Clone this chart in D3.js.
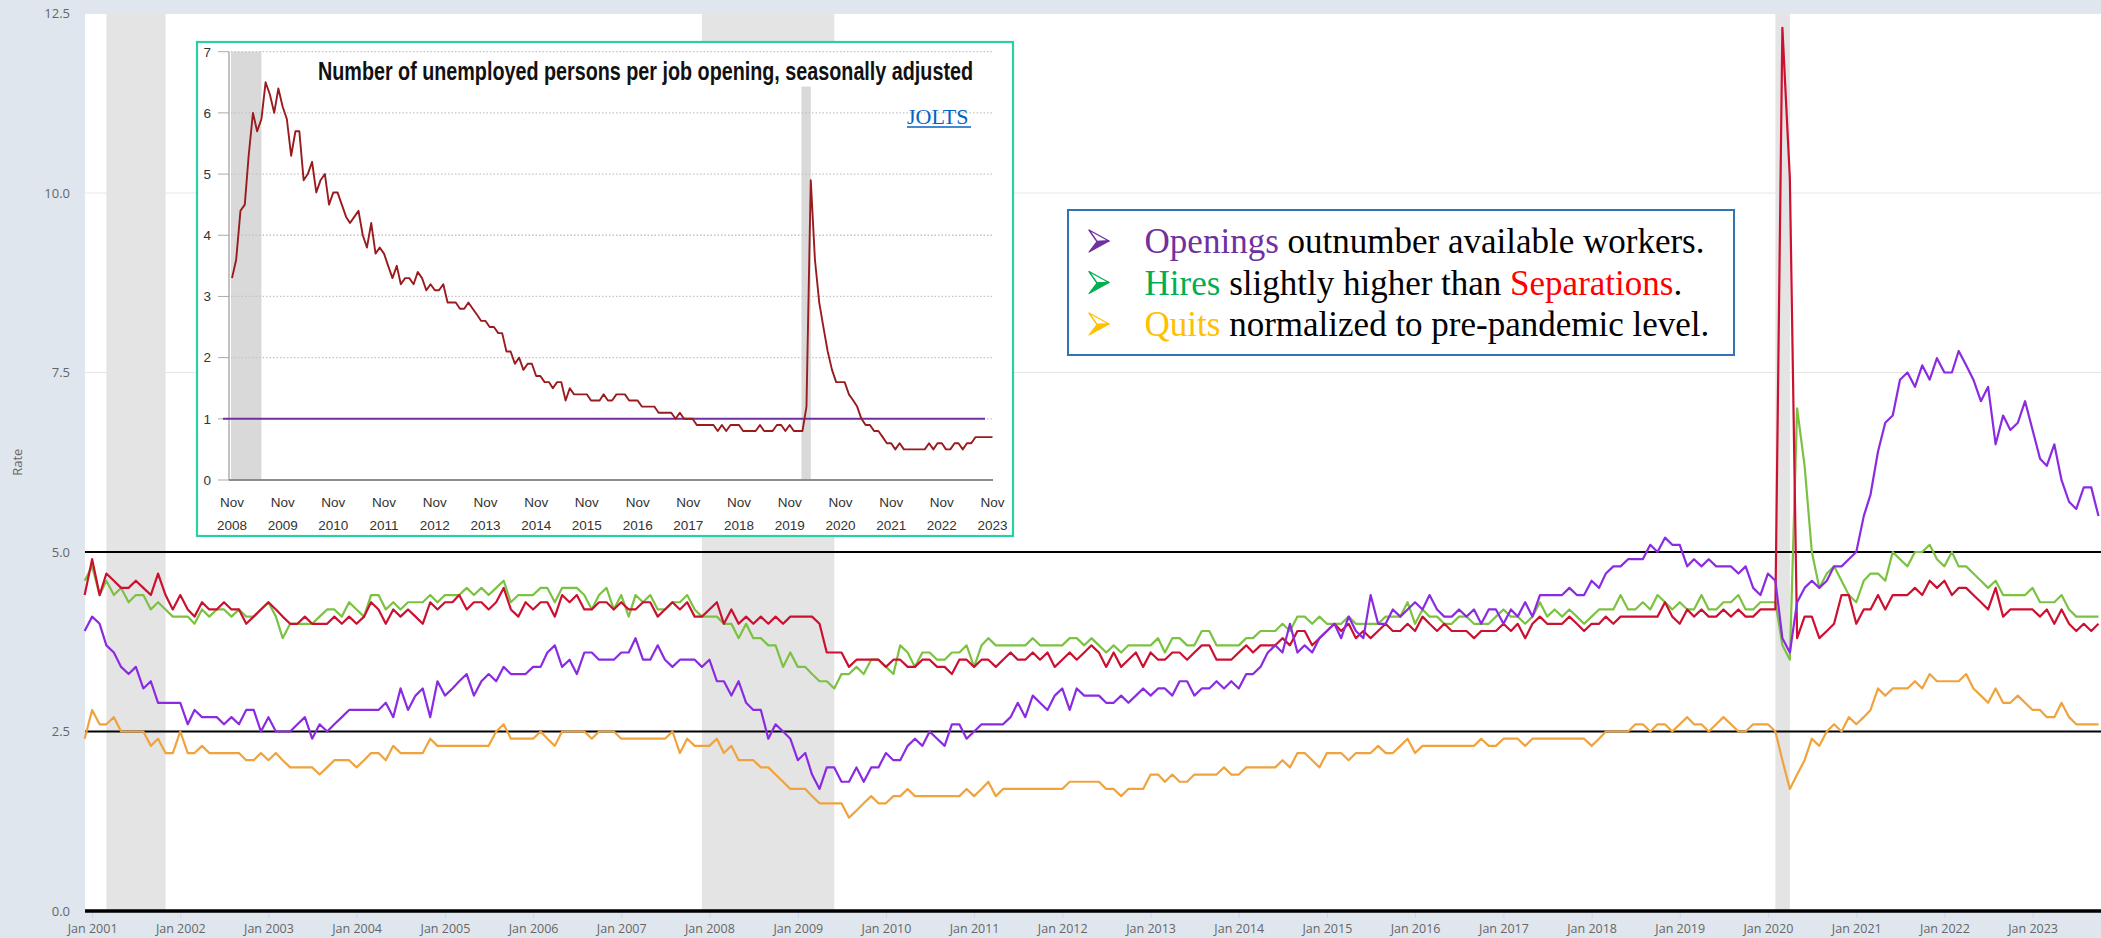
<!DOCTYPE html>
<html>
<head>
<meta charset="utf-8">
<script src="https://cdn.jsdelivr.net/npm/d3@7"></script>
<style>
  body { margin: 0; background: #dfe6ee; }
  svg { display: block; }
</style>
</head>
<body>
<svg id="chart" width="2101" height="938"></svg>
<script>
// JOLTS rates, monthly from Dec 2000 to Oct 2023
const firstMonth = "2000-12";

const openings = [
  3.9,4.1,4.0,3.7,3.6,3.4,3.3,3.4,3.1,3.2, 2.9,2.9,2.9,2.9,2.6,2.8,2.7,2.7,2.7,2.6,
  2.7,2.6,2.8,2.8,2.5,2.7,2.5,2.5,2.5,2.6, 2.7,2.4,2.6,2.5,2.6,2.7,2.8,2.8,2.8,2.8,
  2.8,2.9,2.7,3.1,2.8,3.0,3.1,2.7,3.2,3.0, 3.1,3.2,3.3,3.0,3.2,3.3,3.2,3.4,3.3,3.3,
  3.3,3.4,3.4,3.6,3.7,3.4,3.5,3.3,3.6,3.6, 3.5,3.5,3.5,3.6,3.6,3.8,3.5,3.5,3.7,3.5,
  3.4,3.5,3.5,3.5,3.4,3.5,3.2,3.2,3.0,3.2, 2.9,2.8,2.8,2.4,2.6,2.5,2.4,2.1,2.2,1.9,
  1.7,2.0,2.0,1.8,1.8,2.0,1.8,2.0,2.0,2.2, 2.1,2.1,2.3,2.4,2.3,2.5,2.4,2.3,2.6,2.6,
  2.4,2.5,2.6,2.6,2.6,2.6,2.7,2.9,2.7,3.0, 2.9,2.8,3.0,3.1,2.8,3.1,3.0,3.0,3.0,2.9,
  2.9,3.0,2.9,3.0,3.1,3.0,3.1,3.1,3.0,3.2, 3.2,3.0,3.1,3.1,3.2,3.1,3.2,3.1,3.3,3.3,
  3.4,3.6,3.7,3.6,4.0,3.6,3.7,3.6,3.8,3.9, 4.0,3.8,4.1,3.9,3.8,4.4,4.0,4.0,4.2,4.1,
  4.2,4.3,4.2,4.4,4.2,4.1,4.1,4.2,4.1,4.2, 4.0,4.2,4.2,4.0,4.2,4.1,4.3,4.1,4.4,4.4,
  4.4,4.4,4.5,4.4,4.4,4.6,4.5,4.7,4.8,4.8, 4.9,4.9,4.9,5.1,5.0,5.2,5.1,5.1,4.8,4.9,
  4.8,4.9,4.8,4.8,4.8,4.7,4.8,4.5,4.4,4.7, 4.6,3.8,3.6,4.3,4.5,4.6,4.5,4.6,4.8,4.8,
  4.9,5.0,5.5,5.8,6.4,6.8,6.9,7.4,7.5,7.3, 7.6,7.4,7.7,7.5,7.5,7.8,7.6,7.4,7.1,7.3,
  6.5,6.9,6.7,6.8,7.1,6.7,6.3,6.2,6.5,6.0, 5.7,5.6,5.9,5.9,5.5
];

const hires = [
  4.6,4.8,4.4,4.6,4.4,4.5,4.3,4.4,4.4,4.2, 4.3,4.2,4.1,4.1,4.1,4.0,4.2,4.1,4.2,4.2,
  4.1,4.2,4.1,4.1,4.2,4.3,4.1,3.8,4.0,4.0, 4.0,4.0,4.1,4.2,4.2,4.1,4.3,4.2,4.1,4.4,
  4.4,4.2,4.3,4.2,4.3,4.3,4.3,4.4,4.3,4.4, 4.4,4.4,4.5,4.4,4.5,4.4,4.5,4.6,4.3,4.4,
  4.4,4.4,4.5,4.5,4.3,4.5,4.5,4.5,4.4,4.2, 4.4,4.5,4.2,4.4,4.1,4.4,4.3,4.4,4.2,4.2,
  4.3,4.3,4.4,4.2,4.1,4.1,4.1,4.0,4.0,3.8, 4.0,3.8,3.8,3.7,3.7,3.4,3.6,3.4,3.4,3.3,
  3.2,3.2,3.1,3.3,3.3,3.4,3.3,3.5,3.5,3.4, 3.3,3.7,3.6,3.4,3.6,3.6,3.5,3.5,3.6,3.6,
  3.7,3.4,3.7,3.8,3.7,3.7,3.7,3.7,3.7,3.8, 3.7,3.7,3.7,3.7,3.8,3.8,3.7,3.8,3.7,3.6,
  3.7,3.6,3.7,3.7,3.7,3.7,3.8,3.6,3.8,3.8, 3.7,3.7,3.9,3.9,3.7,3.7,3.7,3.7,3.8,3.8,
  3.9,3.9,3.9,4.0,3.9,4.1,4.1,4.0,4.1,4.0, 4.0,4.0,4.1,4.0,4.0,4.0,4.0,4.1,4.1,4.1,
  4.3,4.0,4.2,4.1,4.1,4.0,4.0,4.1,4.1,4.0, 4.0,4.0,4.1,4.2,4.1,4.1,4.0,4.1,4.3,4.1,
  4.2,4.1,4.2,4.1,4.0,4.1,4.2,4.2,4.2,4.4, 4.2,4.2,4.3,4.2,4.4,4.3,4.2,4.3,4.2,4.2,
  4.4,4.2,4.2,4.3,4.3,4.4,4.2,4.2,4.3,4.3, 4.3,3.7,3.5,7.0,6.2,5.0,4.5,4.7,4.8,4.6,
  4.4,4.3,4.6,4.7,4.7,4.6,5.0,4.9,4.8,5.0, 5.0,5.1,4.9,4.8,5.0,4.8,4.8,4.7,4.6,4.5,
  4.6,4.4,4.4,4.4,4.4,4.5,4.3,4.3,4.3,4.4, 4.2,4.1,4.1,4.1,4.1
];

const separations = [
  4.4,4.9,4.4,4.7,4.6,4.5,4.5,4.6,4.5,4.4, 4.7,4.4,4.2,4.4,4.2,4.1,4.3,4.2,4.2,4.3,
  4.2,4.2,4.0,4.1,4.2,4.3,4.2,4.1,4.0,4.0, 4.1,4.0,4.0,4.0,4.1,4.0,4.1,4.0,4.1,4.3,
  4.2,4.0,4.2,4.1,4.2,4.1,4.0,4.3,4.2,4.3, 4.3,4.4,4.2,4.3,4.3,4.2,4.3,4.5,4.2,4.1,
  4.3,4.2,4.3,4.3,4.1,4.4,4.3,4.4,4.2,4.2, 4.3,4.3,4.2,4.3,4.2,4.2,4.3,4.3,4.1,4.2,
  4.3,4.2,4.3,4.1,4.1,4.2,4.3,4.0,4.2,4.0, 4.1,4.0,4.1,4.0,4.1,4.0,4.1,4.1,4.1,4.1,
  4.0,3.6,3.6,3.6,3.4,3.5,3.5,3.5,3.5,3.4, 3.5,3.5,3.4,3.4,3.5,3.5,3.4,3.4,3.3,3.5,
  3.5,3.4,3.5,3.5,3.4,3.5,3.6,3.5,3.5,3.6, 3.5,3.6,3.4,3.5,3.6,3.5,3.6,3.7,3.6,3.4,
  3.6,3.4,3.5,3.6,3.4,3.6,3.5,3.5,3.6,3.6, 3.5,3.6,3.7,3.7,3.5,3.5,3.5,3.6,3.7,3.6,
  3.7,3.7,3.7,3.8,3.7,3.9,3.9,3.7,3.8,3.9, 4.0,3.9,4.0,3.8,3.9,3.8,3.9,4.0,3.9,3.9,
  4.0,3.9,4.1,4.0,3.9,4.0,3.9,3.9,3.9,3.8, 3.9,3.9,3.9,4.0,3.9,4.0,3.8,4.0,4.1,4.0,
  4.0,4.0,4.1,4.0,3.9,4.0,4.0,4.1,4.0,4.1, 4.1,4.1,4.1,4.1,4.1,4.3,4.1,4.0,4.2,4.1,
  4.2,4.1,4.1,4.2,4.1,4.2,4.1,4.1,4.2,4.2, 4.2,12.3,10.2,3.8,4.1,4.1,3.8,3.9,4.0,4.4,
  4.4,4.0,4.2,4.2,4.4,4.2,4.4,4.4,4.4,4.5, 4.4,4.6,4.5,4.6,4.4,4.5,4.5,4.4,4.3,4.2,
  4.5,4.1,4.2,4.2,4.2,4.2,4.1,4.2,4.0,4.2, 4.0,3.9,4.0,3.9,4.0
];

const quits = [
  2.4,2.8,2.6,2.6,2.7,2.5,2.5,2.5,2.5,2.3, 2.4,2.2,2.2,2.5,2.2,2.2,2.3,2.2,2.2,2.2,
  2.2,2.2,2.1,2.1,2.2,2.1,2.2,2.1,2.0,2.0, 2.0,2.0,1.9,2.0,2.1,2.1,2.1,2.0,2.1,2.2,
  2.2,2.1,2.3,2.2,2.2,2.2,2.2,2.4,2.3,2.3, 2.3,2.3,2.3,2.3,2.3,2.3,2.5,2.6,2.4,2.4,
  2.4,2.4,2.5,2.4,2.3,2.5,2.5,2.5,2.5,2.4, 2.5,2.5,2.5,2.4,2.4,2.4,2.4,2.4,2.4,2.4,
  2.5,2.2,2.4,2.3,2.3,2.3,2.4,2.2,2.3,2.1, 2.1,2.1,2.0,2.0,1.9,1.8,1.7,1.7,1.7,1.6,
  1.5,1.5,1.5,1.5,1.3,1.4,1.5,1.6,1.5,1.5, 1.6,1.6,1.7,1.6,1.6,1.6,1.6,1.6,1.6,1.6,
  1.7,1.6,1.7,1.8,1.6,1.7,1.7,1.7,1.7,1.7, 1.7,1.7,1.7,1.7,1.8,1.8,1.8,1.8,1.8,1.7,
  1.7,1.6,1.7,1.7,1.7,1.9,1.9,1.8,1.9,1.8, 1.8,1.9,1.9,1.9,1.9,2.0,1.9,1.9,2.0,2.0,
  2.0,2.0,2.0,2.1,2.0,2.2,2.2,2.1,2.0,2.2, 2.2,2.2,2.1,2.2,2.2,2.2,2.3,2.2,2.2,2.3,
  2.4,2.2,2.3,2.3,2.3,2.3,2.3,2.3,2.3,2.3, 2.4,2.3,2.3,2.4,2.4,2.4,2.3,2.4,2.4,2.4,
  2.4,2.4,2.4,2.4,2.4,2.3,2.4,2.5,2.5,2.5, 2.5,2.6,2.6,2.5,2.6,2.6,2.5,2.6,2.7,2.6,
  2.6,2.5,2.6,2.7,2.6,2.5,2.5,2.6,2.6,2.6, 2.5,2.1,1.7,1.9,2.1,2.4,2.3,2.5,2.6,2.5,
  2.7,2.6,2.7,2.8,3.1,3.0,3.1,3.1,3.1,3.2, 3.1,3.3,3.2,3.2,3.2,3.2,3.3,3.1,3.0,2.9,
  3.1,2.9,2.9,3.0,2.9,2.8,2.8,2.7,2.7,2.9, 2.7,2.6,2.6,2.6,2.6
];

const recessions = [["2001-03", "2001-11"], ["2007-12", "2009-06"], ["2020-02", "2020-04"]];
const yTicks = [0, 2.5, 5, 7.5, 10, 12.5];
const gridTicks = [7.5, 10, 12.5];
const refLines = [2.5, 5];

// inset: unemployed persons per job opening, Nov 2008 to Nov 2023
const ratioFirstMonth = "2008-11";
const ratio = [
  3.3,3.6,4.4,4.5,5.3,6.0,5.7,5.9,6.5,6.3,6.0,6.4,6.1,
  5.9,5.3,5.7,5.7,4.9,5.0,5.2,4.7,4.9,5.0,4.5,4.7,
  4.7,4.5,4.3,4.2,4.3,4.4,4.0,3.8,4.2,3.7,3.8,3.7,
  3.5,3.3,3.5,3.2,3.3,3.3,3.2,3.4,3.3,3.1,3.2,3.1,
  3.1,3.2,2.9,2.9,2.9,2.8,2.8,2.9,2.8,2.7,2.6,2.6,
  2.5,2.5,2.4,2.4,2.1,2.1,1.9,2.0,1.8,1.9,1.9,1.7,
  1.7,1.6,1.6,1.5,1.6,1.6,1.3,1.5,1.4,1.4,1.4,1.4,
  1.3,1.3,1.3,1.4,1.3,1.3,1.4,1.4,1.4,1.3,1.3,1.3,
  1.2,1.2,1.2,1.2,1.1,1.1,1.1,1.1,1.0,1.1,1.0,1.0,
  1.0,0.9,0.9,0.9,0.9,0.9,0.8,0.9,0.8,0.9,0.9,0.9,
  0.8,0.8,0.8,0.8,0.9,0.8,0.8,0.8,0.9,0.9,0.8,0.9,
  0.8,0.8,0.8,1.2,4.9,3.6,2.9,2.5,2.1,1.8,1.6,1.6,
  1.6,1.4,1.3,1.2,1.0,0.9,0.9,0.8,0.8,0.7,0.6,0.6,
  0.5,0.6,0.5,0.5,0.5,0.5,0.5,0.5,0.6,0.5,0.6,0.6,
  0.5,0.5,0.6,0.6,0.5,0.6,0.6,0.7,0.7,0.7,0.7,0.7
];
const insetBands = [["2008-11", "2009-06", 7], ["2020-02", "2020-04", 6.43]];
const insetYTicks = [0, 1, 2, 3, 4, 5, 6, 7];
const insetGrid = [1, 2, 3, 4, 5, 6, 7];
const insetYears = ["2008","2009","2010","2011","2012","2013","2014","2015",
                    "2016","2017","2018","2019","2020","2021","2022","2023"];
const insetTitle = "Number of unemployed persons per job opening, seasonally adjusted";

// call-out box
const notes = [
  [["Openings", "#7030a0"], [" outnumber available workers.", "#000"]],
  [["Hires", "#00b050"], [" slightly higher than ", "#000"], ["Separations", "#ff0000"], [".", "#000"]],
  [["Quits", "#ffc000"], [" normalized to pre-pandemic level.", "#000"]]
];
const bulletColors = ["#7030a0", "#00b050", "#ffc000"];

const parseMonth = d3.timeParse("%Y-%m");
const svg = d3.select("#chart");

const plotL = 85, plotR = 2101, plotT = 13.5, plotB = 911;

const start = parseMonth(firstMonth);
const months = openings.map((d, i) => d3.timeMonth.offset(start, i));
const x = d3.scaleTime().domain([start, months[months.length - 1]]).range([84.65, 2098.5]);
const y = d3.scaleLinear().domain([0, 12.5]).range([plotB, plotT]);

svg.append("rect")
  .attr("x", plotL).attr("y", plotT)
  .attr("width", plotR - plotL).attr("height", plotB - plotT)
  .attr("fill", "#fff");

svg.append("g").selectAll("line").data(gridTicks).join("line")
  .attr("x1", plotL).attr("x2", plotR)
  .attr("y1", d => y(d)).attr("y2", d => y(d))
  .attr("stroke", "#e6e6e6").attr("stroke-width", 1);

svg.append("g").selectAll("rect").data(recessions).join("rect")
  .attr("x", d => x(parseMonth(d[0])))
  .attr("width", d => x(parseMonth(d[1])) - x(parseMonth(d[0])))
  .attr("y", plotT).attr("height", plotB - plotT)
  .attr("fill", "#e4e4e4");

svg.append("g").selectAll("line").data(refLines).join("line")
  .attr("x1", plotL).attr("x2", plotR)
  .attr("y1", d => y(d)).attr("y2", d => y(d))
  .attr("stroke", "#000").attr("stroke-width", 2);

svg.append("clipPath").attr("id", "plotclip")
  .append("rect").attr("x", plotL - 2).attr("y", 0).attr("width", plotR - plotL + 2).attr("height", plotB);

const line = d3.line().x((d, i) => x(months[i])).y(d => y(d));
const series = [
  { values: hires, color: "#7cc242" },
  { values: separations, color: "#cc1031" },
  { values: quits, color: "#f0a33c" },
  { values: openings, color: "#8a2be2" }
];
svg.append("g").attr("clip-path", "url(#plotclip)")
  .selectAll("path").data(series).join("path")
  .attr("d", d => line(d.values))
  .attr("fill", "none")
  .attr("stroke", d => d.color)
  .attr("stroke-width", 2.2)
  .attr("stroke-linejoin", "round");

// x axis
const gx = svg.append("g").attr("transform", `translate(0,${plotB})`)
  .call(d3.axisBottom(x).ticks(d3.timeYear.every(1)).tickFormat(d3.timeFormat("Jan %Y")).tickSize(7).tickPadding(6));
gx.select(".domain").remove();
gx.selectAll(".tick line").attr("stroke", "#ccd6eb");
gx.selectAll("text").attr("font-family", "Open Sans").attr("font-size", 12.5).attr("fill", "#666");

svg.append("line")
  .attr("x1", plotL).attr("x2", plotR).attr("y1", plotB).attr("y2", plotB)
  .attr("stroke", "#000").attr("stroke-width", 3.5);

// y axis
const gy = svg.append("g").attr("transform", `translate(${plotL},0)`)
  .call(d3.axisLeft(y).tickValues(yTicks).tickFormat(d3.format(".1f")).tickSize(0).tickPadding(15));
gy.select(".domain").remove();
gy.selectAll("text").attr("font-family", "Open Sans").attr("font-size", 13).attr("fill", "#666");

svg.append("text")
  .attr("transform", `translate(22,${(plotT + plotB) / 2}) rotate(-90)`)
  .attr("text-anchor", "middle")
  .attr("font-family", "Open Sans").attr("font-size", 13).attr("fill", "#666")
  .text("Rate");

// ---- inset chart
const inset = svg.append("g");
inset.append("rect")
  .attr("x", 197).attr("y", 42).attr("width", 816).attr("height", 494)
  .attr("fill", "#fff").attr("stroke", "#2ad0a5").attr("stroke-width", 2.2);

const iStart = parseMonth(ratioFirstMonth);
const ratioMonths = ratio.map((d, i) => d3.timeMonth.offset(iStart, i));
const ix = d3.scaleTime().domain([iStart, ratioMonths[ratioMonths.length - 1]]).range([232, 992.5]);
const iy = d3.scaleLinear().domain([0, 7]).range([480, 51.7]);

inset.append("g").selectAll("rect").data(insetBands).join("rect")
  .attr("x", d => ix(parseMonth(d[0])) - 1)
  .attr("width", d => ix(parseMonth(d[1])) - ix(parseMonth(d[0])) + 1)
  .attr("y", d => iy(d[2])).attr("height", d => iy(0) - iy(d[2]))
  .attr("fill", "#d9d9d9");

inset.append("g").selectAll("line").data(insetGrid).join("line")
  .attr("x1", 231).attr("x2", 993)
  .attr("y1", d => iy(d)).attr("y2", d => iy(d))
  .attr("stroke", "#c4c4c4").attr("stroke-width", 1.3).attr("stroke-dasharray", "1.5,2");

inset.append("g").selectAll("line").data(insetYTicks).join("line")
  .attr("x1", 218).attr("x2", 229)
  .attr("y1", d => iy(d)).attr("y2", d => iy(d))
  .attr("stroke", "#aaa").attr("stroke-width", 1);

inset.append("line").attr("x1", 229).attr("x2", 229).attr("y1", iy(7)).attr("y2", iy(0))
  .attr("stroke", "#999").attr("stroke-width", 1.2);
inset.append("line").attr("x1", 229).attr("x2", 993).attr("y1", iy(0)).attr("y2", iy(0))
  .attr("stroke", "#8c8c8c").attr("stroke-width", 1.8);

inset.append("g").selectAll("text").data(insetYTicks).join("text")
  .attr("x", 211).attr("y", d => iy(d)).attr("dy", "0.36em")
  .attr("text-anchor", "end")
  .attr("font-family", "Liberation Sans").attr("font-size", 13.5).attr("fill", "#333")
  .text(d => d);

const yearLabels = inset.append("g").selectAll("g").data(insetYears).join("g")
  .attr("transform", d => `translate(${ix(parseMonth(d + "-11"))},0)`)
  .attr("font-family", "Liberation Sans").attr("font-size", 13.5).attr("fill", "#333")
  .attr("text-anchor", "middle");
yearLabels.append("text").attr("y", 507).text("Nov");
yearLabels.append("text").attr("y", 530).text(d => d);

inset.append("line").attr("x1", 223).attr("x2", 985).attr("y1", iy(1)).attr("y2", iy(1))
  .attr("stroke", "#7030a0").attr("stroke-width", 2);

const iline = d3.line().x((d, i) => ix(ratioMonths[i])).y(d => iy(d));
inset.append("path").attr("d", iline(ratio))
  .attr("fill", "none").attr("stroke", "#9a1b1e").attr("stroke-width", 1.9)
  .attr("stroke-linejoin", "round");

inset.append("text")
  .attr("x", 318).attr("y", 80)
  .attr("font-family", "'Liberation Sans Narrow', 'Arial Narrow', 'Liberation Sans', sans-serif")
  .attr("font-weight", "bold").attr("font-size", 25).attr("fill", "#111")
  .attr("textLength", 655).attr("lengthAdjust", "spacingAndGlyphs")
  .text(insetTitle);

inset.append("text")
  .attr("x", 907).attr("y", 124)
  .attr("font-family", "Liberation Serif").attr("font-size", 22).attr("fill", "#0563c1")
  .text("JOLTS");
inset.append("line").attr("x1", 907).attr("x2", 971).attr("y1", 127).attr("y2", 127)
  .attr("stroke", "#0563c1").attr("stroke-width", 1.3);

// ---- call-out box
const box = svg.append("g");
box.append("rect")
  .attr("x", 1068).attr("y", 210).attr("width", 666).attr("height", 145)
  .attr("fill", "#fff").attr("stroke", "#2e75b6").attr("stroke-width", 2);

const baselines = [253, 294.5, 336];
notes.forEach((parts, k) => {
  const by = baselines[k];
  const bx = 1089;
  const c = bulletColors[k];
  // arrowhead bullet: outlined upper half, filled lower half
  box.append("path")
    .attr("d", `M${bx},${by - 23} L${bx + 20},${by - 12} L${bx + 8},${by - 11.5} Z`)
    .attr("fill", "#fff").attr("stroke", c).attr("stroke-width", 1.4).attr("stroke-linejoin", "round");
  box.append("path")
    .attr("d", `M${bx + 8},${by - 11.5} L${bx + 20},${by - 12} L${bx},${by - 1} Z`)
    .attr("fill", c).attr("stroke", c).attr("stroke-width", 1.2).attr("stroke-linejoin", "round");

  const t = box.append("text")
    .attr("x", 1144.6).attr("y", by)
    .attr("font-family", "Liberation Serif").attr("font-size", 35)
    .attr("xml:space", "preserve");
  parts.forEach(p => {
    t.append("tspan").attr("fill", p[1]).text(p[0]);
  });
});
</script>
</body>
</html>
